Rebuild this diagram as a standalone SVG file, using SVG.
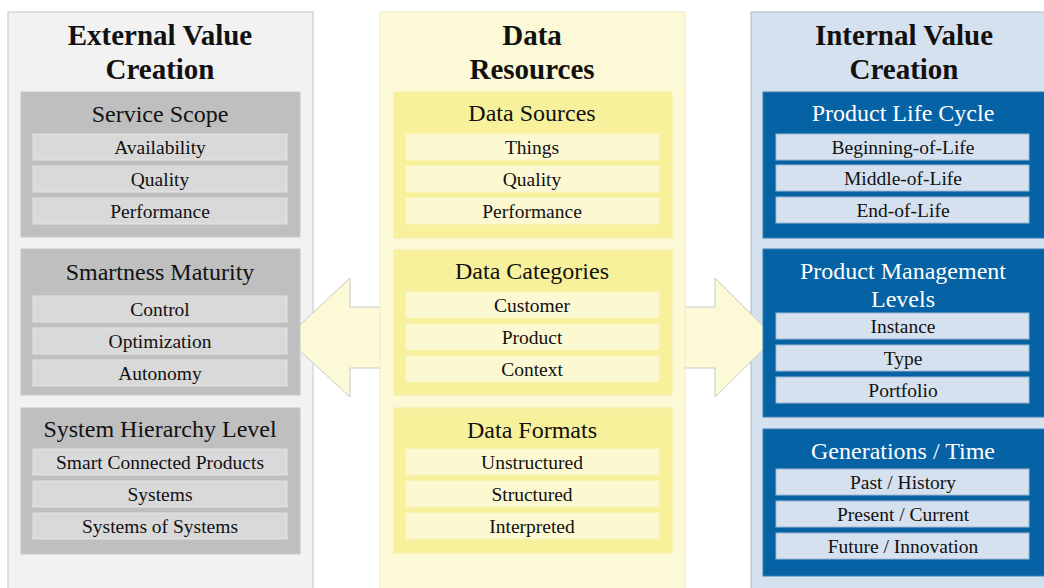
<svg xmlns="http://www.w3.org/2000/svg" width="1044" height="588" viewBox="0 0 1044 588">
<style>
text{font-family:"Liberation Serif","DejaVu Serif",serif;text-anchor:middle;fill:#111}
.ct{font-weight:bold;font-size:29px}
.st{font-size:24px}
.it{font-size:19.5px}
.wt{fill:#fff}
.colL{fill:#f2f2f2;stroke:#c4c4c4}
.colC{fill:#fcf9d6;stroke:#f0ecc4}
.colR{fill:#d6e1ef;stroke:#a8b8cc}
.bxL{fill:#bfbfbf;stroke:#c8c8c8}
.itL{fill:#d9d9d9;stroke:#e4e4e4}
.bxC{fill:#f8f19b;stroke:#f6efa8}
.itC{fill:#fcf8d1;stroke:#fbf6c6}
.bxR{fill:#0562a5;stroke:#3c7fb8}
.itR{fill:#d6e1ef;stroke:#9fb6d2}
.arr{fill:#fcf9d6;stroke:#c8c8c8;stroke-width:1}
</style>
<rect width="1044" height="588" fill="#fff"/>
<g id="col-external">
<rect class="colL" x="8" y="12" width="305" height="590"/>
</g>
<g id="col-internal">
<rect class="colR" x="751" y="12" width="300" height="590"/>
</g>
<g id="connectors">
<polygon class="arr" points="382,307 350,307 350,278 286,338 350,397 350,368 382,368"/>
<polygon class="arr" points="683,307 715,307 715,278 775,338 715,397 715,368 683,368"/>
</g>
<g id="col-data">
<rect class="colC" x="380" y="12" width="305" height="590"/>
</g>
<g id="titles">
<text class="ct" x="160" y="45">External Value</text>
<text class="ct" x="160" y="79">Creation</text>
<text class="ct" x="532" y="45">Data</text>
<text class="ct" x="532" y="79">Resources</text>
<text class="ct" x="904" y="45">Internal Value</text>
<text class="ct" x="904" y="79">Creation</text>
</g>
<g id="service-scope">
<rect class="bxL" x="21" y="92" width="279" height="145"/>
<text class="st" x="160" y="122">Service Scope</text>
<rect class="itL" x="33" y="134" width="254" height="26"/><text class="it" x="160" y="154">Availability</text>
<rect class="itL" x="33" y="166" width="254" height="26"/><text class="it" x="160" y="186">Quality</text>
<rect class="itL" x="33" y="198" width="254" height="26"/><text class="it" x="160" y="218">Performance</text>
</g>
<g id="smartness-maturity">
<rect class="bxL" x="21" y="249" width="279" height="146"/>
<text class="st" x="160" y="280">Smartness Maturity</text>
<rect class="itL" x="33" y="296" width="254" height="26"/><text class="it" x="160" y="316">Control</text>
<rect class="itL" x="33" y="328" width="254" height="26"/><text class="it" x="160" y="348">Optimization</text>
<rect class="itL" x="33" y="360" width="254" height="26"/><text class="it" x="160" y="380">Autonomy</text>
</g>
<g id="system-hierarchy">
<rect class="bxL" x="21" y="408" width="279" height="146"/>
<text class="st" x="160" y="437">System Hierarchy Level</text>
<rect class="itL" x="33" y="449" width="254" height="26"/><text class="it" x="160" y="469">Smart Connected Products</text>
<rect class="itL" x="33" y="481" width="254" height="26"/><text class="it" x="160" y="501">Systems</text>
<rect class="itL" x="33" y="513" width="254" height="26"/><text class="it" x="160" y="533">Systems of Systems</text>
</g>
<g id="data-sources">
<rect class="bxC" x="394" y="92" width="278" height="146"/>
<text class="st" x="532" y="121">Data Sources</text>
<rect class="itC" x="406" y="134" width="253" height="26"/><text class="it" x="532" y="154">Things</text>
<rect class="itC" x="406" y="166" width="253" height="26"/><text class="it" x="532" y="186">Quality</text>
<rect class="itC" x="406" y="198" width="253" height="26"/><text class="it" x="532" y="218">Performance</text>
</g>
<g id="data-categories">
<rect class="bxC" x="394" y="250" width="278" height="145"/>
<text class="st" x="532" y="279">Data Categories</text>
<rect class="itC" x="406" y="292" width="253" height="26"/><text class="it" x="532" y="312">Customer</text>
<rect class="itC" x="406" y="324" width="253" height="26"/><text class="it" x="532" y="344">Product</text>
<rect class="itC" x="406" y="356" width="253" height="26"/><text class="it" x="532" y="376">Context</text>
</g>
<g id="data-formats">
<rect class="bxC" x="394" y="408" width="278" height="145"/>
<text class="st" x="532" y="438">Data Formats</text>
<rect class="itC" x="406" y="449" width="253" height="26"/><text class="it" x="532" y="469">Unstructured</text>
<rect class="itC" x="406" y="481" width="253" height="26"/><text class="it" x="532" y="501">Structured</text>
<rect class="itC" x="406" y="513" width="253" height="26"/><text class="it" x="532" y="533">Interpreted</text>
</g>
<g id="product-life-cycle">
<rect class="bxR" x="763" y="92" width="290" height="146"/>
<text class="st wt" x="903" y="121">Product Life Cycle</text>
<rect class="itR" x="776" y="134" width="253" height="26"/><text class="it" x="903" y="154">Beginning-of-Life</text>
<rect class="itR" x="776" y="165" width="253" height="26"/><text class="it" x="903" y="185">Middle-of-Life</text>
<rect class="itR" x="776" y="197" width="253" height="26"/><text class="it" x="903" y="217">End-of-Life</text>
</g>
<g id="product-management-levels">
<rect class="bxR" x="763" y="249" width="290" height="168"/>
<text class="st wt" x="903" y="279">Product Management</text>
<text class="st wt" x="903" y="307">Levels</text>
<rect class="itR" x="776" y="313" width="253" height="26"/><text class="it" x="903" y="333">Instance</text>
<rect class="itR" x="776" y="345" width="253" height="26"/><text class="it" x="903" y="365">Type</text>
<rect class="itR" x="776" y="377" width="253" height="26"/><text class="it" x="903" y="397">Portfolio</text>
</g>
<g id="generations-time">
<rect class="bxR" x="763" y="429" width="290" height="147"/>
<text class="st wt" x="903" y="459">Generations / Time</text>
<rect class="itR" x="776" y="469" width="253" height="26"/><text class="it" x="903" y="489">Past / History</text>
<rect class="itR" x="776" y="501" width="253" height="26"/><text class="it" x="903" y="521">Present / Current</text>
<rect class="itR" x="776" y="533" width="253" height="26"/><text class="it" x="903" y="553">Future / Innovation</text>
</g>
</svg>
